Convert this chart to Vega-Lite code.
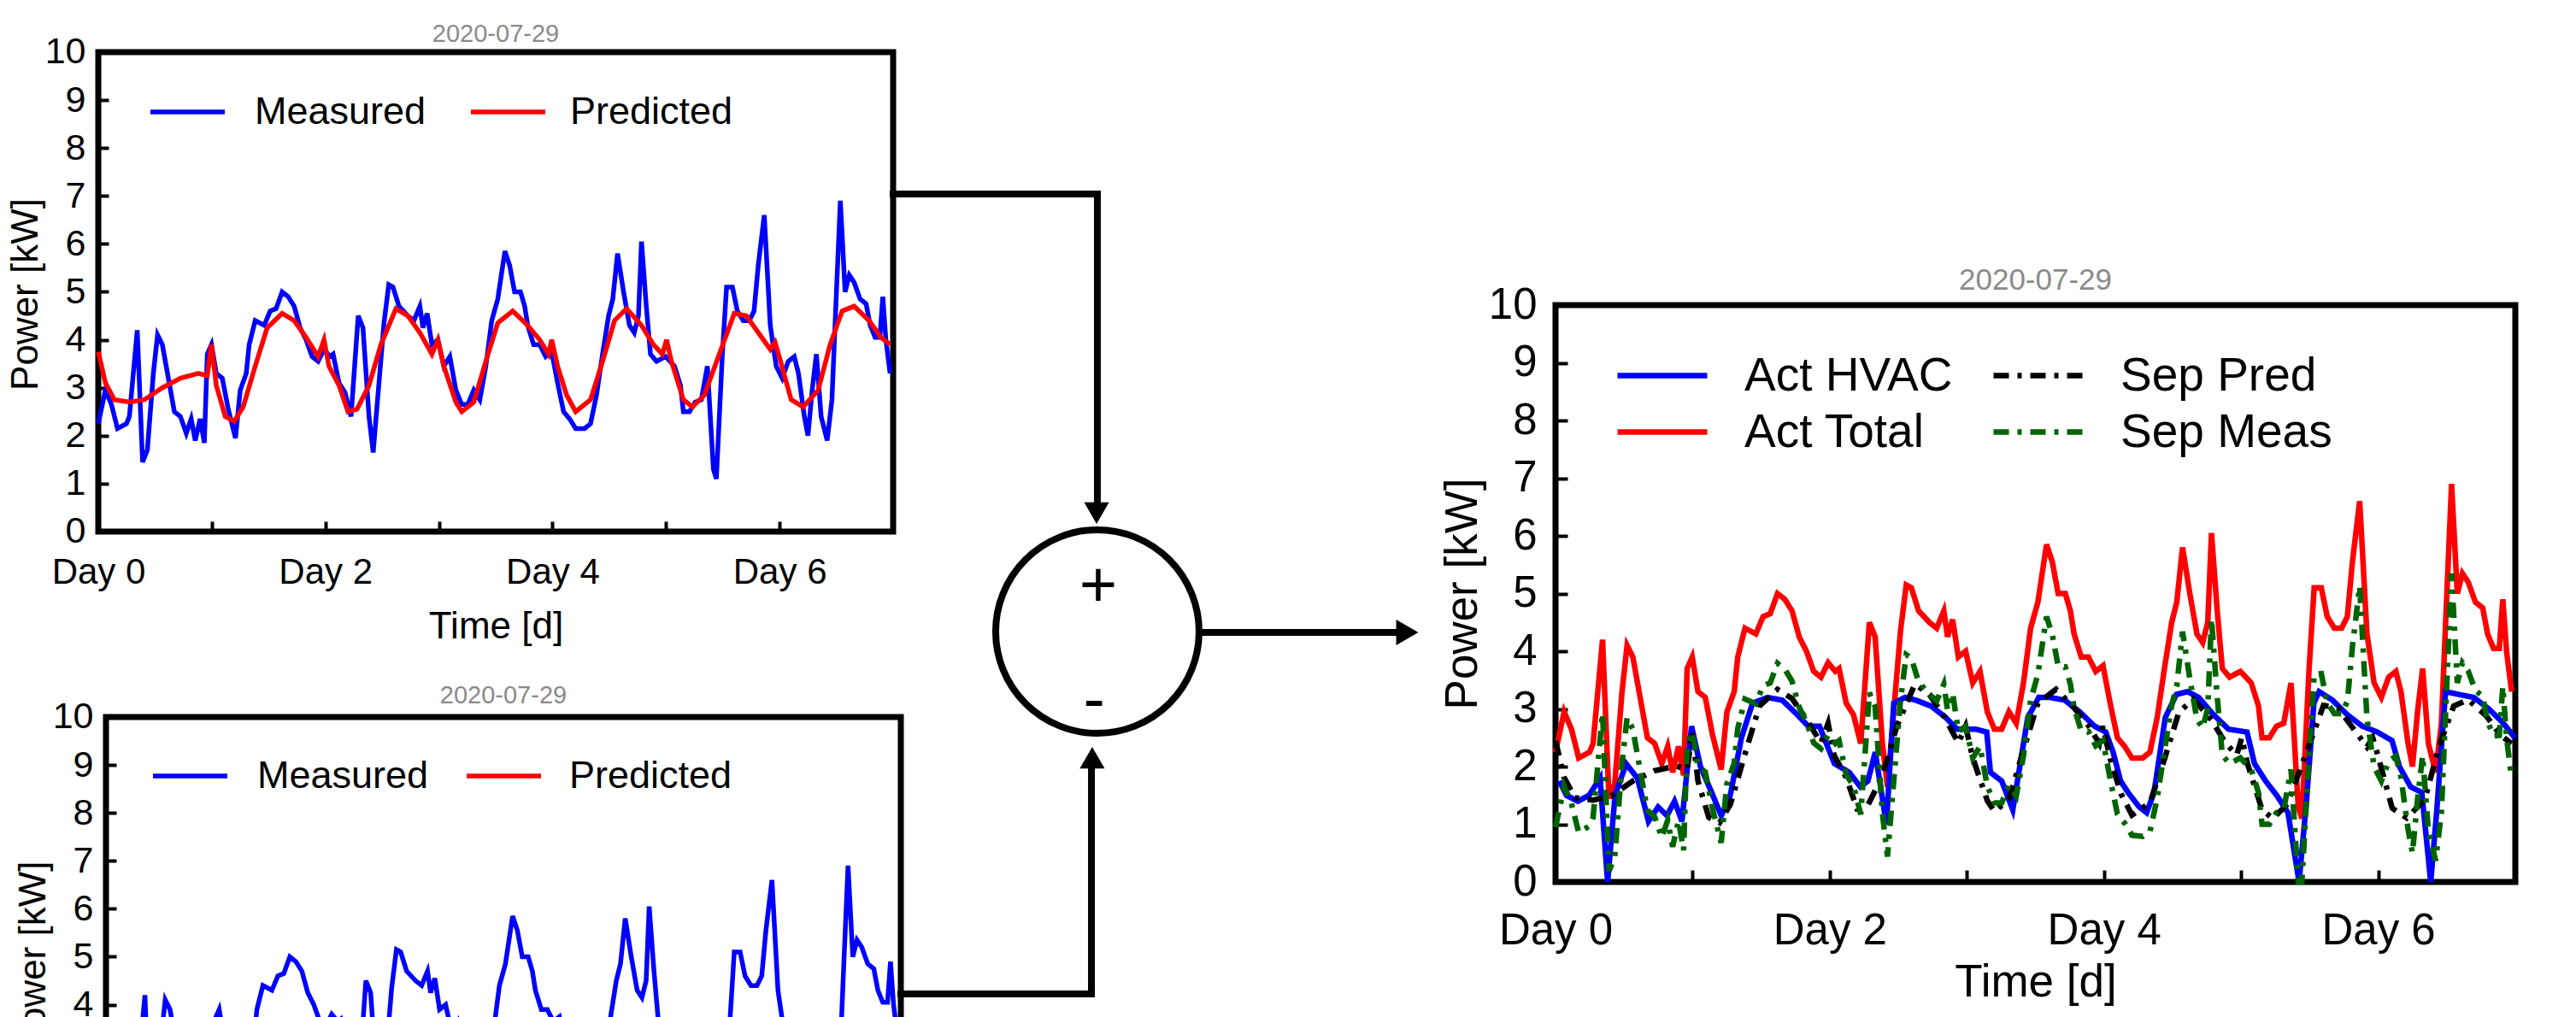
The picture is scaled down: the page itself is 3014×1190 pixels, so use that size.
{
"$schema": "https://vega.github.io/schema/vega-lite/v6.json",
"width": 3014, "height": 1190, "autosize": "none", "padding": 0, "background": "white",
"config": {
  "view": {"stroke": null},
  "font": "Liberation Sans",
  "axis": {"grid": false, "domain": false, "labelFont": "Liberation Sans", "titleFont": "Liberation Sans", "labelColor": "black", "titleColor": "black", "tickColor": "black", "labelOverlap": false, "titleFontWeight": "normal"},
  "legend": {"labelFont": "Liberation Sans", "labelColor": "black", "padding": 0, "labelLimit": 1000},
  "text": {"font": "Liberation Sans"}
},
"datasets": {
  "total": [{"t":0,"kW":2.25},{"t":0.063,"kW":2.95},{"t":0.116,"kW":2.65},{"t":0.169,"kW":2.15},{"t":0.248,"kW":2.25},{"t":0.274,"kW":2.4},{"t":0.343,"kW":4.2},{"t":0.39,"kW":1.45},{"t":0.432,"kW":1.7},{"t":0.485,"kW":3.3},{"t":0.522,"kW":4.1},{"t":0.564,"kW":3.9},{"t":0.617,"kW":3.2},{"t":0.67,"kW":2.5},{"t":0.723,"kW":2.4},{"t":0.775,"kW":2.05},{"t":0.818,"kW":2.35},{"t":0.854,"kW":1.9},{"t":0.897,"kW":2.35},{"t":0.934,"kW":1.85},{"t":0.96,"kW":3.7},{"t":0.997,"kW":3.9},{"t":1.039,"kW":3.3},{"t":1.092,"kW":3.2},{"t":1.145,"kW":2.55},{"t":1.208,"kW":1.95},{"t":1.25,"kW":2.95},{"t":1.303,"kW":3.3},{"t":1.329,"kW":3.9},{"t":1.382,"kW":4.4},{"t":1.461,"kW":4.3},{"t":1.514,"kW":4.6},{"t":1.566,"kW":4.65},{"t":1.619,"kW":5.0},{"t":1.672,"kW":4.9},{"t":1.725,"kW":4.7},{"t":1.777,"kW":4.25},{"t":1.83,"kW":4.0},{"t":1.883,"kW":3.65},{"t":1.936,"kW":3.55},{"t":1.988,"kW":3.8},{"t":2.041,"kW":3.65},{"t":2.068,"kW":3.7},{"t":2.12,"kW":3.1},{"t":2.173,"kW":2.9},{"t":2.226,"kW":2.4},{"t":2.289,"kW":4.5},{"t":2.331,"kW":4.25},{"t":2.384,"kW":2.4},{"t":2.421,"kW":1.65},{"t":2.463,"kW":2.85},{"t":2.516,"kW":4.35},{"t":2.558,"kW":5.15},{"t":2.595,"kW":5.1},{"t":2.648,"kW":4.7},{"t":2.727,"kW":4.5},{"t":2.78,"kW":4.4},{"t":2.832,"kW":4.7},{"t":2.859,"kW":4.25},{"t":2.896,"kW":4.55},{"t":2.938,"kW":3.9},{"t":2.991,"kW":4.0},{"t":3.043,"kW":3.45},{"t":3.096,"kW":3.65},{"t":3.149,"kW":2.95},{"t":3.201,"kW":2.65},{"t":3.254,"kW":2.65},{"t":3.307,"kW":2.95},{"t":3.36,"kW":2.75},{"t":3.413,"kW":3.45},{"t":3.465,"kW":4.4},{"t":3.518,"kW":4.85},{"t":3.581,"kW":5.85},{"t":3.623,"kW":5.55},{"t":3.666,"kW":5.0},{"t":3.718,"kW":5.0},{"t":3.755,"kW":4.7},{"t":3.782,"kW":4.3},{"t":3.834,"kW":3.9},{"t":3.887,"kW":3.9},{"t":3.94,"kW":3.65},{"t":3.993,"kW":3.75},{"t":4.045,"kW":3.1},{"t":4.098,"kW":2.5},{"t":4.151,"kW":2.35},{"t":4.204,"kW":2.15},{"t":4.283,"kW":2.15},{"t":4.335,"kW":2.25},{"t":4.388,"kW":2.85},{"t":4.441,"kW":3.7},{"t":4.494,"kW":4.5},{"t":4.531,"kW":4.85},{"t":4.573,"kW":5.8},{"t":4.626,"kW":5.0},{"t":4.678,"kW":4.3},{"t":4.72,"kW":4.15},{"t":4.757,"kW":4.5},{"t":4.784,"kW":6.05},{"t":4.826,"kW":4.7},{"t":4.863,"kW":3.7},{"t":4.916,"kW":3.55},{"t":4.995,"kW":3.65},{"t":5.074,"kW":3.45},{"t":5.127,"kW":3.05},{"t":5.153,"kW":2.5},{"t":5.206,"kW":2.5},{"t":5.258,"kW":2.7},{"t":5.311,"kW":2.75},{"t":5.364,"kW":3.45},{"t":5.417,"kW":1.3},{"t":5.443,"kW":1.1},{"t":5.496,"kW":3.7},{"t":5.533,"kW":5.1},{"t":5.585,"kW":5.1},{"t":5.628,"kW":4.6},{"t":5.68,"kW":4.4},{"t":5.733,"kW":4.4},{"t":5.775,"kW":4.6},{"t":5.812,"kW":5.55},{"t":5.865,"kW":6.6},{"t":5.918,"kW":4.3},{"t":5.97,"kW":3.45},{"t":6.023,"kW":3.2},{"t":6.076,"kW":3.55},{"t":6.129,"kW":3.65},{"t":6.166,"kW":3.3},{"t":6.218,"kW":2.4},{"t":6.25,"kW":2.0},{"t":6.287,"kW":2.95},{"t":6.324,"kW":3.7},{"t":6.366,"kW":2.4},{"t":6.419,"kW":1.9},{"t":6.461,"kW":2.75},{"t":6.498,"kW":4.85},{"t":6.535,"kW":6.9},{"t":6.577,"kW":5.0},{"t":6.614,"kW":5.35},{"t":6.656,"kW":5.2},{"t":6.709,"kW":4.85},{"t":6.762,"kW":4.75},{"t":6.798,"kW":4.3},{"t":6.841,"kW":4.05},{"t":6.883,"kW":4.05},{"t":6.909,"kW":4.9},{"t":6.936,"kW":4.0},{"t":6.973,"kW":3.3}],
  "tl_pred": [{"t":0,"kW":3.75},{"t":0.063,"kW":3.1},{"t":0.142,"kW":2.75},{"t":0.274,"kW":2.7},{"t":0.406,"kW":2.75},{"t":0.564,"kW":3.0},{"t":0.723,"kW":3.2},{"t":0.881,"kW":3.3},{"t":0.96,"kW":3.25},{"t":0.997,"kW":3.9},{"t":1.039,"kW":3.05},{"t":1.118,"kW":2.4},{"t":1.197,"kW":2.3},{"t":1.276,"kW":2.6},{"t":1.382,"kW":3.45},{"t":1.487,"kW":4.25},{"t":1.619,"kW":4.55},{"t":1.725,"kW":4.4},{"t":1.83,"kW":4.05},{"t":1.936,"kW":3.65},{"t":1.988,"kW":4.0},{"t":2.031,"kW":3.45},{"t":2.12,"kW":3.05},{"t":2.199,"kW":2.5},{"t":2.278,"kW":2.55},{"t":2.384,"kW":3.05},{"t":2.489,"kW":3.9},{"t":2.621,"kW":4.65},{"t":2.727,"kW":4.5},{"t":2.832,"kW":4.15},{"t":2.938,"kW":3.7},{"t":2.991,"kW":4.0},{"t":3.043,"kW":3.45},{"t":3.149,"kW":2.7},{"t":3.201,"kW":2.5},{"t":3.307,"kW":2.7},{"t":3.413,"kW":3.55},{"t":3.518,"kW":4.35},{"t":3.65,"kW":4.6},{"t":3.782,"kW":4.3},{"t":3.887,"kW":4.0},{"t":3.966,"kW":3.7},{"t":3.993,"kW":4.0},{"t":4.045,"kW":3.45},{"t":4.124,"kW":2.85},{"t":4.204,"kW":2.5},{"t":4.335,"kW":2.75},{"t":4.441,"kW":3.55},{"t":4.546,"kW":4.4},{"t":4.652,"kW":4.65},{"t":4.784,"kW":4.3},{"t":4.889,"kW":3.9},{"t":4.968,"kW":3.7},{"t":5.005,"kW":4.0},{"t":5.047,"kW":3.55},{"t":5.153,"kW":2.75},{"t":5.232,"kW":2.6},{"t":5.338,"kW":2.85},{"t":5.469,"kW":3.7},{"t":5.601,"kW":4.55},{"t":5.707,"kW":4.5},{"t":5.812,"kW":4.15},{"t":5.918,"kW":3.8},{"t":5.96,"kW":3.95},{"t":5.997,"kW":3.65},{"t":6.102,"kW":2.75},{"t":6.208,"kW":2.6},{"t":6.34,"kW":2.95},{"t":6.445,"kW":3.9},{"t":6.551,"kW":4.6},{"t":6.656,"kW":4.7},{"t":6.788,"kW":4.4},{"t":6.893,"kW":4.05},{"t":6.973,"kW":3.9}],
  "bl_pred": [{"t":0,"kW":1.3},{"t":0.25,"kW":1.28},{"t":0.5,"kW":1.25},{"t":0.75,"kW":1.27},{"t":1.0,"kW":1.3},{"t":1.25,"kW":1.25},{"t":1.5,"kW":1.2},{"t":1.75,"kW":1.22},{"t":2.0,"kW":1.25},{"t":2.25,"kW":1.22},{"t":2.5,"kW":1.2},{"t":2.75,"kW":1.25},{"t":3.0,"kW":1.3},{"t":3.25,"kW":1.28},{"t":3.5,"kW":1.25},{"t":3.75,"kW":1.27},{"t":4.0,"kW":1.3},{"t":4.25,"kW":1.35},{"t":4.5,"kW":1.44},{"t":4.75,"kW":1.49},{"t":5.0,"kW":1.5},{"t":5.25,"kW":1.5},{"t":5.5,"kW":1.5},{"t":5.75,"kW":1.48},{"t":6.0,"kW":1.45},{"t":6.25,"kW":1.5},{"t":6.5,"kW":1.55},{"t":6.75,"kW":1.53},{"t":7.0,"kW":1.5}],
  "hvac": [{"t":0.027,"kW":1.75},{"t":0.081,"kW":1.5},{"t":0.163,"kW":1.4},{"t":0.244,"kW":1.5},{"t":0.325,"kW":1.8},{"t":0.38,"kW":0.0},{"t":0.434,"kW":1.5},{"t":0.515,"kW":2.05},{"t":0.597,"kW":1.8},{"t":0.678,"kW":1.05},{"t":0.748,"kW":1.3},{"t":0.813,"kW":1.15},{"t":0.868,"kW":1.4},{"t":0.922,"kW":1.05},{"t":0.992,"kW":2.7},{"t":1.057,"kW":2.0},{"t":1.139,"kW":1.55},{"t":1.209,"kW":1.15},{"t":1.274,"kW":1.5},{"t":1.356,"kW":2.5},{"t":1.437,"kW":3.1},{"t":1.546,"kW":3.2},{"t":1.654,"kW":3.15},{"t":1.763,"kW":2.9},{"t":1.844,"kW":2.7},{"t":1.925,"kW":2.7},{"t":2.034,"kW":2.05},{"t":2.142,"kW":1.9},{"t":2.223,"kW":1.65},{"t":2.278,"kW":1.75},{"t":2.332,"kW":2.25},{"t":2.413,"kW":1.0},{"t":2.467,"kW":3.1},{"t":2.549,"kW":3.2},{"t":2.63,"kW":3.15},{"t":2.739,"kW":3.05},{"t":2.847,"kW":2.85},{"t":2.928,"kW":2.65},{"t":3.064,"kW":2.65},{"t":3.145,"kW":2.6},{"t":3.172,"kW":1.9},{"t":3.254,"kW":1.75},{"t":3.335,"kW":1.25},{"t":3.362,"kW":1.65},{"t":3.444,"kW":2.85},{"t":3.525,"kW":3.2},{"t":3.606,"kW":3.2},{"t":3.715,"kW":3.15},{"t":3.823,"kW":2.95},{"t":3.932,"kW":2.7},{"t":4.013,"kW":2.6},{"t":4.067,"kW":2.25},{"t":4.121,"kW":1.75},{"t":4.176,"kW":1.55},{"t":4.257,"kW":1.3},{"t":4.311,"kW":1.2},{"t":4.365,"kW":1.55},{"t":4.447,"kW":2.85},{"t":4.528,"kW":3.25},{"t":4.61,"kW":3.3},{"t":4.691,"kW":3.2},{"t":4.799,"kW":2.9},{"t":4.908,"kW":2.65},{"t":5.043,"kW":2.6},{"t":5.098,"kW":2.05},{"t":5.179,"kW":1.75},{"t":5.26,"kW":1.5},{"t":5.342,"kW":1.2},{"t":5.423,"kW":0.0},{"t":5.477,"kW":1.4},{"t":5.531,"kW":3.1},{"t":5.569,"kW":3.3},{"t":5.667,"kW":3.15},{"t":5.775,"kW":2.9},{"t":5.884,"kW":2.7},{"t":5.992,"kW":2.6},{"t":6.101,"kW":2.45},{"t":6.155,"kW":2.0},{"t":6.236,"kW":1.65},{"t":6.318,"kW":1.55},{"t":6.383,"kW":0.0},{"t":6.426,"kW":1.2},{"t":6.491,"kW":3.3},{"t":6.589,"kW":3.25},{"t":6.697,"kW":3.2},{"t":6.806,"kW":3.0},{"t":6.914,"kW":2.75},{"t":6.996,"kW":2.5}],
  "sep_pred": [{"t":0,"kW":2.45},{"t":0.063,"kW":1.81},{"t":0.142,"kW":1.46},{"t":0.274,"kW":1.42},{"t":0.406,"kW":1.49},{"t":0.564,"kW":1.75},{"t":0.723,"kW":1.93},{"t":0.881,"kW":2.01},{"t":0.96,"kW":1.95},{"t":0.997,"kW":2.6},{"t":1.039,"kW":1.75},{"t":1.118,"kW":1.12},{"t":1.197,"kW":1.03},{"t":1.276,"kW":1.35},{"t":1.382,"kW":2.22},{"t":1.487,"kW":3.05},{"t":1.619,"kW":3.34},{"t":1.725,"kW":3.18},{"t":1.83,"kW":2.82},{"t":1.936,"kW":2.41},{"t":1.988,"kW":2.75},{"t":2.031,"kW":2.2},{"t":2.12,"kW":1.81},{"t":2.199,"kW":1.27},{"t":2.278,"kW":1.33},{"t":2.384,"kW":1.84},{"t":2.489,"kW":2.7},{"t":2.621,"kW":3.43},{"t":2.727,"kW":3.25},{"t":2.832,"kW":2.88},{"t":2.938,"kW":2.41},{"t":2.991,"kW":2.7},{"t":3.043,"kW":2.15},{"t":3.149,"kW":1.41},{"t":3.201,"kW":1.22},{"t":3.307,"kW":1.43},{"t":3.413,"kW":2.29},{"t":3.518,"kW":3.1},{"t":3.65,"kW":3.34},{"t":3.782,"kW":3.02},{"t":3.887,"kW":2.71},{"t":3.966,"kW":2.4},{"t":3.993,"kW":2.7},{"t":4.045,"kW":2.14},{"t":4.124,"kW":1.53},{"t":4.204,"kW":1.16},{"t":4.335,"kW":1.37},{"t":4.441,"kW":2.13},{"t":4.546,"kW":2.94},{"t":4.652,"kW":3.17},{"t":4.784,"kW":2.81},{"t":4.889,"kW":2.4},{"t":4.968,"kW":2.2},{"t":5.005,"kW":2.5},{"t":5.047,"kW":2.05},{"t":5.153,"kW":1.25},{"t":5.232,"kW":1.1},{"t":5.338,"kW":1.35},{"t":5.469,"kW":2.2},{"t":5.601,"kW":3.06},{"t":5.707,"kW":3.02},{"t":5.812,"kW":2.68},{"t":5.918,"kW":2.34},{"t":5.96,"kW":2.5},{"t":5.997,"kW":2.2},{"t":6.102,"kW":1.28},{"t":6.208,"kW":1.11},{"t":6.34,"kW":1.43},{"t":6.445,"kW":2.36},{"t":6.551,"kW":3.05},{"t":6.656,"kW":3.16},{"t":6.788,"kW":2.88},{"t":6.893,"kW":2.54},{"t":6.973,"kW":2.4}],
  "sep_meas": [{"t":0,"kW":0.95},{"t":0.063,"kW":1.66},{"t":0.116,"kW":1.36},{"t":0.169,"kW":0.86},{"t":0.248,"kW":0.97},{"t":0.274,"kW":1.12},{"t":0.343,"kW":2.93},{"t":0.39,"kW":0.19},{"t":0.432,"kW":0.44},{"t":0.485,"kW":2.05},{"t":0.522,"kW":2.85},{"t":0.564,"kW":2.65},{"t":0.617,"kW":1.94},{"t":0.67,"kW":1.24},{"t":0.723,"kW":1.13},{"t":0.775,"kW":0.77},{"t":0.818,"kW":1.07},{"t":0.854,"kW":0.61},{"t":0.897,"kW":1.06},{"t":0.934,"kW":0.55},{"t":0.96,"kW":2.4},{"t":0.997,"kW":2.6},{"t":1.039,"kW":2.0},{"t":1.092,"kW":1.91},{"t":1.145,"kW":1.27},{"t":1.208,"kW":0.68},{"t":1.25,"kW":1.7},{"t":1.303,"kW":2.06},{"t":1.329,"kW":2.66},{"t":1.382,"kW":3.17},{"t":1.461,"kW":3.09},{"t":1.514,"kW":3.4},{"t":1.566,"kW":3.45},{"t":1.619,"kW":3.79},{"t":1.672,"kW":3.69},{"t":1.725,"kW":3.48},{"t":1.777,"kW":3.03},{"t":1.83,"kW":2.77},{"t":1.883,"kW":2.41},{"t":1.936,"kW":2.31},{"t":1.988,"kW":2.55},{"t":2.041,"kW":2.4},{"t":2.068,"kW":2.45},{"t":2.12,"kW":1.86},{"t":2.173,"kW":1.67},{"t":2.226,"kW":1.17},{"t":2.289,"kW":3.28},{"t":2.331,"kW":3.04},{"t":2.384,"kW":1.19},{"t":2.421,"kW":0.44},{"t":2.463,"kW":1.65},{"t":2.516,"kW":3.15},{"t":2.558,"kW":3.94},{"t":2.595,"kW":3.88},{"t":2.648,"kW":3.47},{"t":2.727,"kW":3.25},{"t":2.78,"kW":3.14},{"t":2.832,"kW":3.43},{"t":2.859,"kW":2.98},{"t":2.896,"kW":3.27},{"t":2.938,"kW":2.61},{"t":2.991,"kW":2.7},{"t":3.043,"kW":2.15},{"t":3.096,"kW":2.35},{"t":3.149,"kW":1.66},{"t":3.201,"kW":1.37},{"t":3.254,"kW":1.37},{"t":3.307,"kW":1.68},{"t":3.36,"kW":1.49},{"t":3.413,"kW":2.19},{"t":3.465,"kW":3.15},{"t":3.518,"kW":3.6},{"t":3.581,"kW":4.6},{"t":3.623,"kW":4.29},{"t":3.666,"kW":3.74},{"t":3.718,"kW":3.73},{"t":3.755,"kW":3.43},{"t":3.782,"kW":3.02},{"t":3.834,"kW":2.62},{"t":3.887,"kW":2.61},{"t":3.94,"kW":2.36},{"t":3.993,"kW":2.45},{"t":4.045,"kW":1.79},{"t":4.098,"kW":1.18},{"t":4.151,"kW":1.02},{"t":4.204,"kW":0.81},{"t":4.283,"kW":0.79},{"t":4.335,"kW":0.87},{"t":4.388,"kW":1.45},{"t":4.441,"kW":2.28},{"t":4.494,"kW":3.06},{"t":4.531,"kW":3.4},{"t":4.573,"kW":4.34},{"t":4.626,"kW":3.53},{"t":4.678,"kW":2.82},{"t":4.72,"kW":2.67},{"t":4.757,"kW":3.01},{"t":4.784,"kW":4.56},{"t":4.826,"kW":3.21},{"t":4.863,"kW":2.2},{"t":4.916,"kW":2.05},{"t":4.995,"kW":2.15},{"t":5.074,"kW":1.95},{"t":5.127,"kW":1.55},{"t":5.153,"kW":1.0},{"t":5.206,"kW":1.0},{"t":5.258,"kW":1.2},{"t":5.311,"kW":1.25},{"t":5.364,"kW":1.95},{"t":5.417,"kW":0.0},{"t":5.443,"kW":0.0},{"t":5.496,"kW":2.2},{"t":5.533,"kW":3.6},{"t":5.585,"kW":3.61},{"t":5.628,"kW":3.11},{"t":5.68,"kW":2.92},{"t":5.733,"kW":2.92},{"t":5.775,"kW":3.13},{"t":5.812,"kW":4.08},{"t":5.865,"kW":5.13},{"t":5.918,"kW":2.84},{"t":5.97,"kW":2.0},{"t":6.023,"kW":1.75},{"t":6.076,"kW":2.09},{"t":6.129,"kW":2.18},{"t":6.166,"kW":1.82},{"t":6.218,"kW":0.91},{"t":6.25,"kW":0.5},{"t":6.287,"kW":1.44},{"t":6.324,"kW":2.19},{"t":6.366,"kW":0.88},{"t":6.419,"kW":0.37},{"t":6.461,"kW":1.21},{"t":6.498,"kW":3.3},{"t":6.535,"kW":5.35},{"t":6.577,"kW":3.45},{"t":6.614,"kW":3.8},{"t":6.656,"kW":3.66},{"t":6.709,"kW":3.32},{"t":6.762,"kW":3.22},{"t":6.798,"kW":2.78},{"t":6.841,"kW":2.53},{"t":6.883,"kW":2.54},{"t":6.909,"kW":3.39},{"t":6.936,"kW":2.5},{"t":6.973,"kW":1.8}]
},
"resolve": {
  "scale": {"x": "independent", "y": "independent", "color": "independent", "strokeDash": "independent"},
  "axis": {"x": "independent", "y": "independent"},
  "legend": {"color": "independent", "strokeDash": "independent"}
},
"layer": [
  {"data": {"values": [{}]}, "mark": {"type": "rect", "filled": false, "color": "black", "strokeWidth": 7},
   "encoding": {
     "x": {"datum": 0, "type": "quantitative", "scale": {"domain": [-0.8656, 21.8204], "nice": false, "zero": false}, "axis": null},
     "x2": {"datum": 7},
     "y": {"datum": 0, "type": "quantitative", "scale": {"domain": [-10.1248, 11.0873], "nice": false, "zero": false}, "axis": null},
     "y2": {"datum": 10}}},
  {"data": {"name": "total"}, "mark": {"type": "line", "strokeWidth": 5.5},
   "encoding": {
     "x": {"field": "t", "type": "quantitative", "scale": {"domain": [-0.8656, 21.8204], "nice": false, "zero": false},
           "axis": {"orient": "bottom", "offset": -568, "values": [0,1,2,3,4,5,6,7], "labelExpr": "datum.value % 2 === 0 ? 'Day ' + datum.value : ''", "tickSize": -12, "tickWidth": 4, "labelPadding": 39, "labelFontSize": 42, "title": "Time [d]", "titleFontSize": 44, "titleX": 580, "titleY": 124, "titleBaseline": "alphabetic", "titleAlign": "center"}},
     "y": {"field": "kW", "type": "quantitative", "scale": {"domain": [-10.1248, 11.0873], "nice": false, "zero": false},
           "axis": {"orient": "left", "offset": -115, "values": [0,1,2,3,4,5,6,7,8,9,10], "tickSize": -12, "tickWidth": 4, "labelPadding": 27, "labelFontSize": 43, "title": "Power [kW]", "titleFontSize": 44, "titleX": -72, "titleY": 344, "titleAngle": -90, "titleBaseline": "alphabetic", "titleAlign": "center"}},
     "color": {"datum": "Measured", "scale": {"domain": ["Measured"], "range": ["#0000ff"]},
               "legend": {"orient": "none", "legendX": 173, "legendY": 84.5, "title": null, "symbolType": "stroke", "symbolSize": 7569, "symbolStrokeWidth": 5.5, "labelFontSize": 45, "labelOffset": 32}}}},
  {"data": {"name": "tl_pred"}, "mark": {"type": "line", "strokeWidth": 5.5},
   "encoding": {
     "x": {"field": "t", "type": "quantitative", "scale": {"domain": [-0.8656, 21.8204], "nice": false, "zero": false}, "axis": null},
     "y": {"field": "kW", "type": "quantitative", "scale": {"domain": [-10.1248, 11.0873], "nice": false, "zero": false}, "axis": null},
     "color": {"datum": "Predicted", "scale": {"domain": ["Predicted"], "range": ["#ff0000"]},
               "legend": {"orient": "none", "legendX": 548, "legendY": 84.5, "title": null, "symbolType": "stroke", "symbolSize": 7569, "symbolStrokeWidth": 5.5, "labelFontSize": 45, "labelOffset": 26}}}},
  {"data": {"values": [{"label": "2020-07-29"}]}, "mark": {"type": "text", "fontSize": 29, "color": "#8a8a8a", "dy": -12, "baseline": "alphabetic", "align": "center"},
   "encoding": {
     "x": {"datum": 3.5, "type": "quantitative", "scale": {"domain": [-0.8656, 21.8204], "nice": false, "zero": false}, "axis": null},
     "y": {"datum": 10, "type": "quantitative", "scale": {"domain": [-10.1248, 11.0873], "nice": false, "zero": false}, "axis": null},
     "text": {"field": "label"}}},

  {"data": {"values": [{}]}, "mark": {"type": "rect", "filled": false, "color": "black", "strokeWidth": 7},
   "encoding": {
     "x": {"datum": 0, "type": "quantitative", "scale": {"domain": [-0.9333, 21.7527], "nice": false, "zero": false}, "axis": null},
     "x2": {"datum": 7},
     "y": {"datum": 0, "type": "quantitative", "scale": {"domain": [3.7433, 24.9554], "nice": false, "zero": false}, "axis": null},
     "y2": {"datum": 10}}},
  {"data": {"name": "total"}, "mark": {"type": "line", "strokeWidth": 5.5},
   "encoding": {
     "x": {"field": "t", "type": "quantitative", "scale": {"domain": [-0.9333, 21.7527], "nice": false, "zero": false}, "axis": null},
     "y": {"field": "kW", "type": "quantitative", "scale": {"domain": [3.7433, 24.9554], "nice": false, "zero": false},
           "axis": {"orient": "left", "offset": -124, "values": [0,1,2,3,4,5,6,7,8,9,10], "tickSize": -12, "tickWidth": 4, "labelPadding": 27, "labelFontSize": 43, "title": "Power [kW]", "titleFontSize": 44, "titleX": -72, "titleY": 1119.5, "titleAngle": -90, "titleBaseline": "alphabetic", "titleAlign": "center"}},
     "color": {"datum": "Measured", "scale": {"domain": ["Measured"], "range": ["#0000ff"]},
               "legend": {"orient": "none", "legendX": 176, "legendY": 861.5, "title": null, "symbolType": "stroke", "symbolSize": 7569, "symbolStrokeWidth": 5.5, "labelFontSize": 45, "labelOffset": 32}}}},
  {"data": {"name": "bl_pred"}, "mark": {"type": "line", "strokeWidth": 5.5},
   "encoding": {
     "x": {"field": "t", "type": "quantitative", "scale": {"domain": [-0.9333, 21.7527], "nice": false, "zero": false}, "axis": null},
     "y": {"field": "kW", "type": "quantitative", "scale": {"domain": [3.7433, 24.9554], "nice": false, "zero": false}, "axis": null},
     "color": {"datum": "Predicted", "scale": {"domain": ["Predicted"], "range": ["#ff0000"]},
               "legend": {"orient": "none", "legendX": 543, "legendY": 861.5, "title": null, "symbolType": "stroke", "symbolSize": 7569, "symbolStrokeWidth": 5.5, "labelFontSize": 45, "labelOffset": 30}}}},
  {"data": {"values": [{"label": "2020-07-29"}]}, "mark": {"type": "text", "fontSize": 29, "color": "#8a8a8a", "dy": -16, "baseline": "alphabetic", "align": "center"},
   "encoding": {
     "x": {"datum": 3.5, "type": "quantitative", "scale": {"domain": [-0.9333, 21.7527], "nice": false, "zero": false}, "axis": null},
     "y": {"datum": 10, "type": "quantitative", "scale": {"domain": [3.7433, 24.9554], "nice": false, "zero": false}, "axis": null},
     "text": {"field": "label"}}},

  {"data": {"values": [{}]}, "mark": {"type": "rect", "filled": false, "color": "black", "strokeWidth": 7},
   "encoding": {
     "x": {"datum": 0, "type": "quantitative", "scale": {"domain": [-11.3448, 7.4426], "nice": false, "zero": false}, "axis": null},
     "x2": {"datum": 7},
     "y": {"datum": 0, "type": "quantitative", "scale": {"domain": [-2.3407, 15.2889], "nice": false, "zero": false}, "axis": null},
     "y2": {"datum": 10}}},
  {"data": {"name": "total"}, "mark": {"type": "line", "strokeWidth": 6.5},
   "encoding": {
     "x": {"field": "t", "type": "quantitative", "scale": {"domain": [-11.3448, 7.4426], "nice": false, "zero": false},
           "axis": {"orient": "bottom", "offset": -158, "values": [0,1,2,3,4,5,6,7], "labelExpr": "datum.value % 2 === 0 ? 'Day ' + datum.value : ''", "tickSize": -14, "tickWidth": 4, "labelPadding": 46, "labelFontSize": 51, "title": "Time [d]", "titleFontSize": 53, "titleX": 2381.5, "titleY": 133, "titleBaseline": "alphabetic", "titleAlign": "center"}},
     "y": {"field": "kW", "type": "quantitative", "scale": {"domain": [-2.3407, 15.2889], "nice": false, "zero": false},
           "axis": {"orient": "left", "offset": -1820, "values": [0,1,2,3,4,5,6,7,8,9,10], "tickSize": -14, "tickWidth": 4, "labelPadding": 36, "labelFontSize": 51, "title": "Power [kW]", "titleFontSize": 53, "titleX": -93, "titleY": 694.5, "titleAngle": -90, "titleBaseline": "alphabetic", "titleAlign": "center"}},
     "color": {"datum": "Act Total", "scale": {"domain": ["Act Total"], "range": ["#ff0000"]},
               "legend": {"orient": "none", "legendX": 1889, "legendY": 449.5, "title": null, "symbolType": "stroke", "symbolSize": 11025, "symbolStrokeWidth": 6.5, "labelFontSize": 55, "labelOffset": 40}}}},
  {"data": {"name": "hvac"}, "mark": {"type": "line", "strokeWidth": 6.5},
   "encoding": {
     "x": {"field": "t", "type": "quantitative", "scale": {"domain": [-11.3448, 7.4426], "nice": false, "zero": false}, "axis": null},
     "y": {"field": "kW", "type": "quantitative", "scale": {"domain": [-2.3407, 15.2889], "nice": false, "zero": false}, "axis": null},
     "color": {"datum": "Act HVAC", "scale": {"domain": ["Act HVAC"], "range": ["#0000ff"]},
               "legend": {"orient": "none", "legendX": 1889, "legendY": 383.5, "title": null, "symbolType": "stroke", "symbolSize": 11025, "symbolStrokeWidth": 6.5, "labelFontSize": 55, "labelOffset": 40}}}},
  {"data": {"name": "sep_pred"}, "mark": {"type": "line", "strokeWidth": 6.5},
   "encoding": {
     "x": {"field": "t", "type": "quantitative", "scale": {"domain": [-11.3448, 7.4426], "nice": false, "zero": false}, "axis": null},
     "y": {"field": "kW", "type": "quantitative", "scale": {"domain": [-2.3407, 15.2889], "nice": false, "zero": false}, "axis": null},
     "color": {"datum": "Sep Pred", "scale": {"domain": ["Sep Pred"], "range": ["#000000"]},
               "legend": {"orient": "none", "legendX": 2329, "legendY": 383.5, "title": null, "symbolType": "stroke", "symbolSize": 11025, "symbolStrokeWidth": 6.5, "labelFontSize": 55, "labelOffset": 40}},
     "strokeDash": {"datum": "Sep Pred", "scale": {"domain": ["Sep Pred"], "range": [[18, 10, 5, 10]]},
               "legend": {"orient": "none", "legendX": 2329, "legendY": 383.5, "title": null, "symbolType": "stroke", "symbolSize": 11025, "symbolStrokeWidth": 6.5, "labelFontSize": 55, "labelOffset": 40}}}},
  {"data": {"name": "sep_meas"}, "mark": {"type": "line", "strokeWidth": 6.5},
   "encoding": {
     "x": {"field": "t", "type": "quantitative", "scale": {"domain": [-11.3448, 7.4426], "nice": false, "zero": false}, "axis": null},
     "y": {"field": "kW", "type": "quantitative", "scale": {"domain": [-2.3407, 15.2889], "nice": false, "zero": false}, "axis": null},
     "color": {"datum": "Sep Meas", "scale": {"domain": ["Sep Meas"], "range": ["#006400"]},
               "legend": {"orient": "none", "legendX": 2329, "legendY": 449.5, "title": null, "symbolType": "stroke", "symbolSize": 11025, "symbolStrokeWidth": 6.5, "labelFontSize": 55, "labelOffset": 40}},
     "strokeDash": {"datum": "Sep Meas", "scale": {"domain": ["Sep Meas"], "range": [[18, 10, 5, 10]]},
               "legend": {"orient": "none", "legendX": 2329, "legendY": 449.5, "title": null, "symbolType": "stroke", "symbolSize": 11025, "symbolStrokeWidth": 6.5, "labelFontSize": 55, "labelOffset": 40}}}},
  {"data": {"values": [{"label": "2020-07-29"}]}, "mark": {"type": "text", "fontSize": 35, "color": "#8a8a8a", "dy": -18, "baseline": "alphabetic", "align": "center"},
   "encoding": {
     "x": {"datum": 3.5, "type": "quantitative", "scale": {"domain": [-11.3448, 7.4426], "nice": false, "zero": false}, "axis": null},
     "y": {"datum": 10, "type": "quantitative", "scale": {"domain": [-2.3407, 15.2889], "nice": false, "zero": false}, "axis": null},
     "text": {"field": "label"}}},

  {"data": {"values": [{}]}, "mark": {"type": "rule", "strokeWidth": 8, "color": "black", "strokeCap": "square"},
   "encoding": {"x": {"datum": 34.67, "type": "quantitative", "scale": {"domain": [0, 100], "nice": false, "zero": false}, "axis": null}, "x2": {"datum": 42.6},
                "y": {"datum": 19.08, "type": "quantitative", "scale": {"domain": [0, 100], "nice": false, "zero": false, "reverse": true}, "axis": null}}},
  {"data": {"values": [{}]}, "mark": {"type": "rule", "strokeWidth": 8, "color": "black", "strokeCap": "square"},
   "encoding": {"x": {"datum": 42.6, "type": "quantitative", "scale": {"domain": [0, 100], "nice": false, "zero": false}, "axis": null},
                "y": {"datum": 19.08, "type": "quantitative", "scale": {"domain": [0, 100], "nice": false, "zero": false, "reverse": true}, "axis": null}, "y2": {"datum": 50.0}}},
  {"data": {"values": [{}]}, "mark": {"type": "point", "shape": "triangle-down", "size": 850, "filled": true, "color": "black", "opacity": 1},
   "encoding": {"x": {"datum": 42.57, "type": "quantitative", "scale": {"domain": [0, 100], "nice": false, "zero": false}, "axis": null},
                "y": {"datum": 50.46, "type": "quantitative", "scale": {"domain": [0, 100], "nice": false, "zero": false, "reverse": true}, "axis": null}}},
  {"data": {"values": [{}]}, "mark": {"type": "rule", "strokeWidth": 8, "color": "black", "strokeCap": "square"},
   "encoding": {"x": {"datum": 34.97, "type": "quantitative", "scale": {"domain": [0, 100], "nice": false, "zero": false}, "axis": null}, "x2": {"datum": 42.37},
                "y": {"datum": 97.73, "type": "quantitative", "scale": {"domain": [0, 100], "nice": false, "zero": false, "reverse": true}, "axis": null}}},
  {"data": {"values": [{}]}, "mark": {"type": "rule", "strokeWidth": 8, "color": "black", "strokeCap": "square"},
   "encoding": {"x": {"datum": 42.37, "type": "quantitative", "scale": {"domain": [0, 100], "nice": false, "zero": false}, "axis": null},
                "y": {"datum": 97.73, "type": "quantitative", "scale": {"domain": [0, 100], "nice": false, "zero": false, "reverse": true}, "axis": null}, "y2": {"datum": 74.96}}},
  {"data": {"values": [{}]}, "mark": {"type": "point", "shape": "triangle-up", "size": 850, "filled": true, "color": "black", "opacity": 1},
   "encoding": {"x": {"datum": 42.4, "type": "quantitative", "scale": {"domain": [0, 100], "nice": false, "zero": false}, "axis": null},
                "y": {"datum": 74.5, "type": "quantitative", "scale": {"domain": [0, 100], "nice": false, "zero": false, "reverse": true}, "axis": null}}},
  {"data": {"values": [{}]}, "mark": {"type": "point", "shape": "circle", "size": 56644, "filled": false, "color": "black", "strokeWidth": 8, "opacity": 1},
   "encoding": {"x": {"datum": 42.6, "type": "quantitative", "scale": {"domain": [0, 100], "nice": false, "zero": false}, "axis": null},
                "y": {"datum": 62.1, "type": "quantitative", "scale": {"domain": [0, 100], "nice": false, "zero": false, "reverse": true}, "axis": null}}},
  {"data": {"values": [{}]}, "mark": {"type": "rule", "strokeWidth": 8, "color": "black", "strokeCap": "butt"},
   "encoding": {"x": {"datum": 46.65, "type": "quantitative", "scale": {"domain": [0, 100], "nice": false, "zero": false}, "axis": null}, "x2": {"datum": 54.41},
                "y": {"datum": 62.18, "type": "quantitative", "scale": {"domain": [0, 100], "nice": false, "zero": false, "reverse": true}, "axis": null}}},
  {"data": {"values": [{}]}, "mark": {"type": "point", "shape": "triangle-right", "size": 900, "filled": true, "color": "black", "opacity": 1},
   "encoding": {"x": {"datum": 54.63, "type": "quantitative", "scale": {"domain": [0, 100], "nice": false, "zero": false}, "axis": null},
                "y": {"datum": 62.18, "type": "quantitative", "scale": {"domain": [0, 100], "nice": false, "zero": false, "reverse": true}, "axis": null}}},
  {"data": {"values": [{}]}, "mark": {"type": "text", "text": "+", "fontSize": 76, "align": "center", "baseline": "middle", "color": "black"},
   "encoding": {"x": {"datum": 42.63, "type": "quantitative", "scale": {"domain": [0, 100], "nice": false, "zero": false}, "axis": null},
                "y": {"datum": 57.73, "type": "quantitative", "scale": {"domain": [0, 100], "nice": false, "zero": false, "reverse": true}, "axis": null}}},
  {"data": {"values": [{}]}, "mark": {"type": "text", "text": "-", "fontSize": 76, "align": "center", "baseline": "middle", "color": "black"},
   "encoding": {"x": {"datum": 42.47, "type": "quantitative", "scale": {"domain": [0, 100], "nice": false, "zero": false}, "axis": null},
                "y": {"datum": 68.91, "type": "quantitative", "scale": {"domain": [0, 100], "nice": false, "zero": false, "reverse": true}, "axis": null}}}
]
}
